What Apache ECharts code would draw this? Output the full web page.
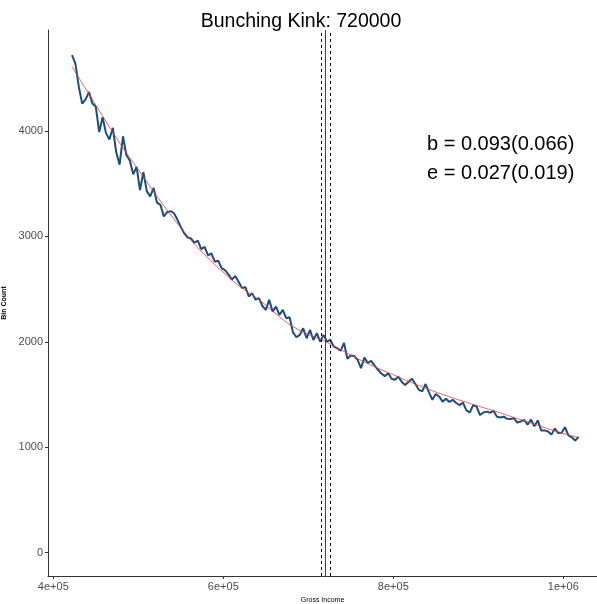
<!DOCTYPE html>
<html>
<head>
<meta charset="utf-8">
<script src="https://cdn.jsdelivr.net/npm/echarts@6/dist/echarts.min.js"></script>
<style>
html,body{margin:0;padding:0;background:#fff;}
#chart{width:597px;height:604px;}
</style>
</head>
<body>
<div id="chart"></div>
<script>
// ---- data ----
const BIN_START = 422000;   // first bin (gross income)
const BIN_WIDTH = 4000;
const binCounts = [
4720,4640,4420,4260,4300,4370,4260,4230,3990,4130,
3980,3920,4030,3800,3680,3950,3770,3720,3590,3660,
3440,3610,3430,3380,3460,3320,3300,3190,3230,3240,
3220,3160,3090,3030,2990,2980,2940,2960,2880,2900,
2820,2840,2760,2770,2700,2680,2640,2590,2625,2570,
2510,2520,2430,2460,2400,2414,2340,2303,2398,2287,
2334,2255,2303,2224,2234,2090,2044,2066,2129,2034,
2113,2018,2082,2002,2066,2002,2018,1954,1940,1915,
1990,1840,1870,1865,1830,1750,1850,1800,1820,1775,
1735,1700,1675,1702,1650,1640,1668,1620,1590,1622,
1650,1600,1545,1530,1600,1520,1450,1505,1480,1433,
1460,1430,1450,1420,1400,1423,1350,1330,1400,1385,
1306,1330,1338,1328,1345,1290,1282,1290,1270,1268,
1275,1235,1245,1259,1215,1262,1200,1255,1160,1160,
1150,1120,1178,1135,1137,1190,1112,1095,1063,1100
];
const fitIncome = [422000,442000,462000,482000,502000,522000,542000,562000,582000,602000,
  622000,642000,662000,682000,702000,722000,742000,762000,782000,802000,
  822000,842000,862000,882000,902000,922000,942000,962000,982000,1002000,1018000];
const fitCounts = [4610,4350,4090,3840,3610,3380,3165,2965,2795,2645,
  2510,2400,2265,2145,2065,1995,1908,1825,1750,1680,
  1612,1548,1490,1437,1386,1336,1283,1230,1176,1127,1090];
const kink = 720000;
const windowLower = 715000;
const windowUpper = 726000;
const xTickValues = [400000,600000,800000,1000000];
const xTickLabels = ['4e+05','6e+05','8e+05','1e+06'];
const yTickValues = [0,1000,2000,3000,4000];
const estimates = ['b = 0.093(0.066)','e = 0.027(0.019)'];

// ---- build chart ----
const incomeBins = binCounts.map((_, i) => BIN_START + BIN_WIDTH * i);
const blueData = incomeBins.map((x, i) => [x, binCounts[i]]);
const redData = fitIncome.map((x, i) => [x, fitCounts[i]]);

const FONT = 'Liberation Sans, Arial, sans-serif';
const chart = echarts.init(document.getElementById('chart'), null, {renderer: 'canvas'});
chart.setOption({
  animation: false,
  backgroundColor: '#ffffff',
  title: {
    text: 'Bunching Kink: ' + kink,
    left: 296, top: 7, textAlign: 'center',
    textStyle: {fontFamily: FONT, fontSize: 19.5, fontWeight: 'normal', color: '#000'}
  },
  grid: {left: 48, right: 0, top: 30, bottom: 28, containLabel: false, outerBoundsMode: 'none'},
  xAxis: {
    type: 'value', min: 393765, max: 1039647,
    name: 'Gross Income', nameLocation: 'middle', nameGap: 17,
    nameTextStyle: {fontFamily: FONT, fontSize: 7, color: '#000'},
    axisLine: {show: true, onZero: false, lineStyle: {color: '#333', width: 1}},
    axisTick: {show: true, length: 3, customValues: xTickValues, lineStyle: {color: '#333'}},
    axisLabel: {customValues: xTickValues, margin: 5, fontFamily: FONT, fontSize: 11, color: '#4d4d4d',
      formatter: v => { const k = xTickValues.indexOf(v); return k >= 0 ? xTickLabels[k] : ''; }},
    splitLine: {show: false}
  },
  yAxis: {
    type: 'value', min: -221, max: 4958,
    name: 'Bin Count', nameLocation: 'middle', nameGap: 34, nameRotate: 90,
    nameTextStyle: {fontFamily: FONT, fontSize: 7, color: '#000', fontWeight: 'bold'},
    axisLine: {show: true, onZero: false, lineStyle: {color: '#333', width: 1}},
    axisTick: {show: true, length: 3, customValues: yTickValues, lineStyle: {color: '#333'}},
    axisLabel: {customValues: yTickValues, margin: 5, fontFamily: FONT, fontSize: 11, color: '#4d4d4d',
      formatter: v => String(v)},
    splitLine: {show: false}
  },
  series: [
    {
      type: 'line', data: blueData, showSymbol: false, z: 2,
      lineStyle: {color: '#1d4e78', width: 2}
    },
    {
      type: 'line', data: redData, showSymbol: false, smooth: true, z: 3,
      lineStyle: {color: '#e23b3b', width: 0.8},
      markLine: {
        silent: true, symbol: ['none', 'none'], label: {show: false},
        data: [
          {xAxis: windowLower, lineStyle: {color: '#000', type: [3, 3], width: 1}},
          {xAxis: kink, lineStyle: {color: '#444', type: 'solid', width: 1}},
          {xAxis: windowUpper, lineStyle: {color: '#000', type: [3, 3], width: 1}}
        ]
      }
    }
  ],
  graphic: [
    {type: 'text', left: 427, top: 134, style: {text: estimates[0], font: '20px ' + FONT, fill: '#000'}},
    {type: 'text', left: 427, top: 163, style: {text: estimates[1], font: '20px ' + FONT, fill: '#000'}}
  ]
});
</script>
</body>
</html>
